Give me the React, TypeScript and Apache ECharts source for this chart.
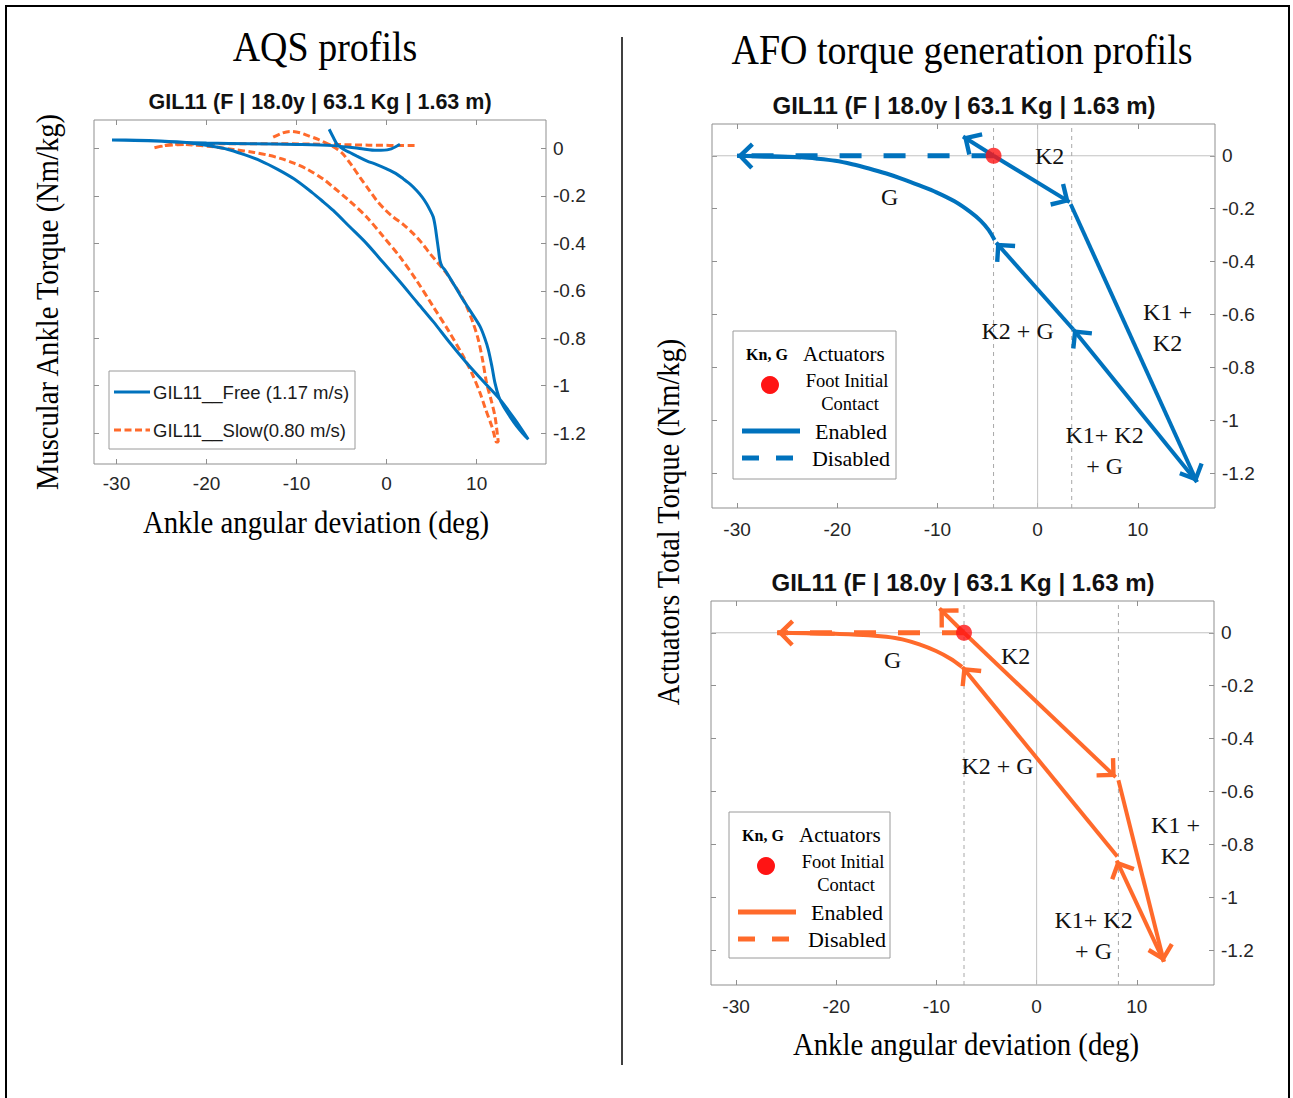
import React, { useEffect, useRef } from "react";
import * as echarts from "echarts";

// ---------- data ----------
const xTicks = [-30, -20, -10, 0, 10];
const yTicks = [-1.2, -1, -0.8, -0.6, -0.4, -0.2, 0];
const xRange = [-32.5, 17.7];
const yRange = [-1.33, 0.12];

const speedNames = ["GIL11__Free (1.17 m/s)", "GIL11__Slow(0.80 m/s)"];
const subjectTitle = "GIL11 (F | 18.0y | 63.1 Kg | 1.63 m)";

const freeCurve = [
  [-6.38, 0.081], [-5.9, 0.045], [-5.5, 0.018], [-4.8, -0.003], [-4.08, -0.017], [-3.3, -0.032],
  [-2.22, -0.052], [-1.1, -0.068], [0, -0.086], [1.0, -0.105], [1.85, -0.128], [2.7, -0.153],
  [3.33, -0.177], [3.95, -0.205], [4.44, -0.233], [4.85, -0.262], [5.18, -0.289], [5.4, -0.33],
  [5.56, -0.373], [5.75, -0.425], [5.92, -0.471], [6.15, -0.497], [6.48, -0.513], [7.5, -0.575],
  [8.51, -0.639], [9.5, -0.697], [10.37, -0.75], [10.9, -0.8], [11.29, -0.848], [11.7, -0.92],
  [12.03, -0.988], [12.45, -1.045], [12.96, -1.086], [13.7, -1.13], [14.44, -1.17], [15.1, -1.2],
  [15.73, -1.226],
  [14.2, -1.14], [12.59, -1.058], [10.7, -0.98], [8.89, -0.904], [7.0, -0.818], [5.18, -0.73],
  [3.3, -0.645], [1.48, -0.562], [-0.4, -0.48], [-2.22, -0.401], [-4.1, -0.33], [-5.93, -0.261],
  [-7.0, -0.226], [-8.3, -0.185], [-10.3, -0.128], [-12.1, -0.088], [-14, -0.052], [-15.9, -0.025],
  [-17.7, -0.003], [-19.5, 0.01], [-21.4, 0.021], [-23.3, 0.028], [-25.1, 0.032], [-27.8, 0.035],
  [-30.5, 0.036],
  [-28, 0.034], [-25, 0.03], [-22.9, 0.026], [-20, 0.023], [-15, 0.02], [-10, 0.017], [-6, 0.012],
  [-3, 0.0], [-1.1, -0.008], [0.3, -0.004], [1.48, 0.018],
];

const slowCurve = [
  [-12.6, 0.048], [-11.6, 0.065], [-10.7, 0.072], [-9.6, 0.066], [-8.8, 0.055], [-7.6, 0.038],
  [-6.3, 0.015], [-5.4, -0.005], [-4.82, -0.024], [-3.9, -0.07], [-2.96, -0.122], [-2.0, -0.172],
  [-1.11, -0.219], [-0.2, -0.257], [0.73, -0.289], [1.9, -0.322], [2.96, -0.359], [3.9, -0.398],
  [4.81, -0.443], [5.75, -0.485], [6.67, -0.527], [7.4, -0.57], [8.14, -0.611], [8.89, -0.667],
  [9.6, -0.735], [10.18, -0.806], [10.7, -0.9], [11.1, -0.988], [11.6, -1.06], [12.03, -1.128],
  [12.25, -1.19], [12.4, -1.237],
  [12.2, -1.237], [11.9, -1.2], [11.67, -1.17], [11.0, -1.1], [10.37, -1.03], [9.5, -0.95],
  [8.51, -0.876], [6.9, -0.77], [5.18, -0.667], [3.3, -0.555], [1.48, -0.457], [-0.4, -0.37],
  [-2.22, -0.289], [-4.1, -0.222], [-5.93, -0.163], [-7.0, -0.13], [-8.8, -0.088], [-10.3, -0.062],
  [-11.8, -0.042], [-13.3, -0.027], [-14.7, -0.017], [-17, -0.004], [-19.5, 0.008], [-21.9, 0.016],
  [-23.6, 0.018], [-25.9, 0.002],
  [-24.5, 0.012], [-22, 0.018], [-18, 0.02], [-12, 0.02], [-6, 0.017], [-2, 0.014], [3.3, 0.012],
];

// AFO – free speed (top)
const freeContact = [-4.4, 0];
const freePhaseX = [-4.4, 3.4];
const freeGCurve = [
  [-4.3, -0.318], [-4.9, -0.28], [-5.7, -0.245], [-6.73, -0.212], [-8.3, -0.172], [-10.1, -0.138],
  [-11.8, -0.112], [-13.47, -0.088], [-15.1, -0.067], [-16.84, -0.048], [-18.5, -0.032],
  [-20.2, -0.019], [-22, -0.011], [-23.6, -0.006], [-26.8, -0.002], [-30, 0],
];
const freeK2Back = [[-4.4, 0], [-7.45, 0.073]];
const freeK2 = [[-4.4, 0], [3.2, -0.175]];
const freeK1K2 = [[3.3, -0.183], [15.9, -1.232]];
const freeK1K2G = [[15.9, -1.232], [3.54, -0.655]];
const freeK2G = [[3.54, -0.655], [-4.14, -0.328]];
const freeLabels = [
  { text: "K2", at: [1.2, 0] },
  { text: "G", at: [-14.76, -0.155] },
  { text: "K2 + G", at: [-2.0, -0.663] },
  { text: "K1 +\nK2", at: [12.96, -0.648] },
  { text: "K1+ K2\n+ G", at: [6.68, -1.114] },
];

// AFO – slow speed (bottom)
const slowContact = [-7.25, 0];
const slowPhaseX = [-7.25, 8.16];
const slowGCurve = [
  [-7.45, -0.129], [-8.6, -0.098], [-10.04, -0.069], [-11.7, -0.044], [-13.41, -0.025],
  [-15, -0.015], [-16.78, -0.009], [-20.15, -0.004], [-23, -0.001], [-25.88, 0],
];
const slowK2Back = [[-7.25, 0], [-9.7, 0.092]];
const slowK2 = [[-7.25, 0], [7.89, -0.545]];
const slowK1K2 = [[8.16, -0.557], [12.7, -1.242]];
const slowK1K2G = [[12.7, -1.242], [7.99, -0.86]];
const slowK2G = [[8.05, -0.845], [-7.41, -0.129]];
const slowLabels = [
  { text: "G", at: [-14.36, -0.102] },
  { text: "K2", at: [-2.1, -0.087] },
  { text: "K2 + G", at: [-3.9, -0.504] },
  { text: "K1 +\nK2", at: [13.86, -0.784] },
  { text: "K1+ K2\n+ G", at: [5.68, -1.144] },
];

// ---------- styles ----------
const BLUE = "#0072BD";
const ORANGE = "#FF6A2B";
const RED = "#FF1414";
const BOX = "#8f8f8f";
const SERIF = "'Liberation Serif', 'Times New Roman', serif";
const SANS = "'Liberation Sans', Arial, sans-serif";
// open chevron, tip at the centre of a 40x40 box (degenerate sub-paths pad the box)
const CHEVRON =
  "path://M0,10L10,0L20,10L17.7,12.3L10,4.6L2.3,12.3Z M-10,-20L-9.99,-20Z M30,20L29.99,20Z";

const grids = [
  { left: 94, top: 120, width: 452, height: 344 },
  { left: 712, top: 124, width: 503, height: 384 },
  { left: 711, top: 601, width: 503, height: 384 },
];
const xLabelMargin = [10, 12, 12];

function buildAxes() {
  const xAxis: any[] = [];
  const yAxis: any[] = [];
  grids.forEach((_, i) => {
    const tick = (vals: number[]) => ({
      show: true, inside: true, length: 5, customValues: vals, lineStyle: { color: BOX, width: 1 },
    });
    const line = { show: false, onZero: false };
    xAxis.push({
      gridIndex: i, type: "value", min: xRange[0], max: xRange[1], position: "bottom",
      axisLine: line, splitLine: { show: false }, axisTick: tick(xTicks),
      axisLabel: { customValues: xTicks, fontFamily: SANS, fontSize: 19, color: "#262626", margin: xLabelMargin[i] },
    });
    xAxis.push({
      gridIndex: i, type: "value", min: xRange[0], max: xRange[1], position: "top",
      axisLine: line, splitLine: { show: false }, axisTick: tick(xTicks), axisLabel: { show: false },
    });
    yAxis.push({
      gridIndex: i, type: "value", min: yRange[0], max: yRange[1], position: "right",
      axisLine: line, splitLine: { show: false }, axisTick: tick(yTicks),
      axisLabel: { customValues: yTicks, fontFamily: SANS, fontSize: 19, color: "#262626", margin: 7 },
    });
    yAxis.push({
      gridIndex: i, type: "value", min: yRange[0], max: yRange[1], position: "left",
      axisLine: line, splitLine: { show: false }, axisTick: tick(yTicks), axisLabel: { show: false },
    });
  });
  return { xAxis, yAxis };
}

function lineSeries(gi: number, data: number[][], color: string, width: number, type: any, smooth: any, z = 2) {
  return {
    type: "line", xAxisIndex: gi * 2, yAxisIndex: gi * 2, data, showSymbol: false, symbol: "none",
    smooth, lineStyle: { color, width, type }, silent: true, z, animation: false,
  };
}

function arrowSeries(gi: number, coords: number[][], color: string) {
  return {
    type: "lines", coordinateSystem: "cartesian2d", xAxisIndex: gi * 2, yAxisIndex: gi * 2,
    symbol: ["none", CHEVRON], symbolSize: [54, 54],
    lineStyle: { color, width: 4, opacity: 1, curveness: 0 },
    data: [{ coords }], silent: true, z: 3,
  };
}

function afoSeries(gi: number, color: string, d: any) {
  const s: any[] = [];
  s.push(lineSeries(gi, [[xRange[0], 0], [xRange[1], 0]], "#c2c2c2", 1, "solid", false, 1));
  s.push(lineSeries(gi, [[0, yRange[0]], [0, yRange[1]]], "#c2c2c2", 1, "solid", false, 1));
  d.phaseX.forEach((x: number) => {
    s.push(lineSeries(gi, [[x, yRange[0]], [x, yRange[1]]], "#a8a8a8", 1, [4, 4], false, 1));
  });
  const gEnd = d.g[d.g.length - 1];
  s.push(lineSeries(gi, [d.contact, [gEnd[0], 0]], color, 5, [22, 22], false, 2));
  s.push(lineSeries(gi, d.g, color, 4, "solid", 0.3, 2));
  s.push(arrowSeries(gi, [d.g[d.g.length - 3], gEnd], color));
  [d.k2Back, d.k2, d.k1k2, d.k1k2g, d.k2g].forEach((c: number[][]) => s.push(arrowSeries(gi, c, color)));
  s.push({
    type: "scatter", xAxisIndex: gi * 2, yAxisIndex: gi * 2, symbolSize: 16,
    itemStyle: { color: RED }, data: [d.contact], silent: true, z: 5,
  });
  s.push({
    type: "scatter", xAxisIndex: gi * 2, yAxisIndex: gi * 2, symbolSize: 1,
    itemStyle: { color: "rgba(0,0,0,0)" }, silent: true, z: 6,
    label: {
      show: true, position: "inside", formatter: (p: any) => p.name, fontFamily: SERIF,
      fontSize: 24, color: "#111", lineHeight: 31, align: "center", opacity: 1,
    },
    data: d.labels.map((l: any) => ({ name: l.text, value: l.at })),
  });
  return s;
}

function txt(x: number, y: number, text: string, size: number, family: string, opts: any = {}) {
  return {
    type: "text", x, y, rotation: opts.rotation || 0, scaleY: opts.scaleY || 1, z: 50,
    style: {
      text, fontSize: size, fontFamily: family, fontWeight: opts.weight || "normal",
      fill: opts.fill || "#000", align: opts.align || "center", textAlign: opts.align || "center",
      verticalAlign: "middle", textVerticalAlign: "middle",
    },
  };
}

function afoLegend(ox: number, oy: number, w: number, h: number, color: string) {
  return {
    type: "group", x: ox, y: oy, z: 60,
    children: [
      { type: "rect", shape: { x: 0, y: 0, width: w, height: h }, style: { fill: "#fff", stroke: "#9a9a9a", lineWidth: 1 } },
      txt(34, 23, "Kn, G", 16, SERIF, { weight: "bold" }),
      txt(70, 23, "Actuators", 21, SERIF, { align: "left" }),
      { type: "circle", shape: { cx: 37, cy: 54, r: 9 }, style: { fill: RED } },
      txt(114, 50, "Foot Initial", 18.5, SERIF),
      txt(117, 73, "Contact", 18.5, SERIF),
      { type: "line", shape: { x1: 9, y1: 100, x2: 67, y2: 100 }, style: { stroke: color, lineWidth: 5 } },
      txt(118, 100, "Enabled", 22, SERIF),
      { type: "line", shape: { x1: 9, y1: 127, x2: 26, y2: 127 }, style: { stroke: color, lineWidth: 5 } },
      { type: "line", shape: { x1: 43, y1: 127, x2: 60, y2: 127 }, style: { stroke: color, lineWidth: 5 } },
      txt(118, 127, "Disabled", 22, SERIF),
    ],
  };
}

function buildOption() {
  const { xAxis, yAxis } = buildAxes();
  const series: any[] = [];
  series.push(lineSeries(0, slowCurve, ORANGE, 3, [7, 3.5], 0.3, 2));
  series.push(lineSeries(0, freeCurve, BLUE, 3, "solid", 0.3, 3));
  series.push(...afoSeries(1, BLUE, {
    contact: freeContact, phaseX: freePhaseX, g: freeGCurve, k2Back: freeK2Back, k2: freeK2,
    k1k2: freeK1K2, k1k2g: freeK1K2G, k2g: freeK2G, labels: freeLabels,
  }));
  series.push(...afoSeries(2, ORANGE, {
    contact: slowContact, phaseX: slowPhaseX, g: slowGCurve, k2Back: slowK2Back, k2: slowK2,
    k1k2: slowK1K2, k1k2g: slowK1K2G, k2g: slowK2G, labels: slowLabels,
  }));

  const graphic: any[] = [
    { type: "rect", z: 40, shape: { x: 6, y: 6, width: 1283, height: 1110 }, style: { fill: "none", stroke: "#000", lineWidth: 2 } },
    { type: "line", z: 40, shape: { x1: 622, y1: 37, x2: 622, y2: 1065 }, style: { stroke: "#000", lineWidth: 1.5 } },
    txt(325, 47, "AQS profils", 38, SERIF, { scaleY: 1.12 }),
    txt(962, 50, "AFO torque generation profils", 38, SERIF, { scaleY: 1.12 }),
    txt(320, 102, subjectTitle, 21.5, SANS, { weight: "bold", fill: "#111" }),
    txt(964, 105, subjectTitle, 24, SANS, { weight: "bold", fill: "#111" }),
    txt(963, 582, subjectTitle, 24, SANS, { weight: "bold", fill: "#111" }),
    txt(316, 523, "Ankle angular deviation (deg)", 28.8, SERIF, { scaleY: 1.1 }),
    txt(966, 1045, "Ankle angular deviation (deg)", 28.8, SERIF, { scaleY: 1.1 }),
    txt(48, 302, "Muscular Ankle Torque (Nm/kg)", 28.6, SERIF, { rotation: Math.PI / 2, scaleY: 1.1 }),
    txt(668, 522, "Actuators Total Torque (Nm/kg)", 28.4, SERIF, { rotation: Math.PI / 2, scaleY: 1.1 }),
    {
      type: "group", x: 109, y: 371, z: 60,
      children: [
        { type: "rect", shape: { x: 0, y: 0, width: 246, height: 78 }, style: { fill: "#fff", stroke: "#9a9a9a", lineWidth: 1 } },
        { type: "line", shape: { x1: 5, y1: 21, x2: 41, y2: 21 }, style: { stroke: BLUE, lineWidth: 3 } },
        txt(44, 21, speedNames[0], 18.5, SANS, { align: "left", fill: "#1a1a1a" }),
        { type: "line", shape: { x1: 5, y1: 59, x2: 41, y2: 59 }, style: { stroke: ORANGE, lineWidth: 3, lineDash: [7, 3.5] } },
        txt(44, 59, speedNames[1], 18.5, SANS, { align: "left", fill: "#1a1a1a" }),
      ],
    },
    afoLegend(733, 331, 163, 148, BLUE),
    afoLegend(729, 812, 161, 146, ORANGE),
  ];

  return {
    animation: false,
    backgroundColor: "#fff",
    grid: grids.map((g) => ({
      ...g, show: true, borderColor: BOX, borderWidth: 1, backgroundColor: "transparent",
      containLabel: false, outerBoundsMode: "none",
    })),
    xAxis, yAxis, series, graphic,
  };
}

export default function App() {
  const ref = useRef<HTMLDivElement>(null);
  useEffect(() => {
    if (!ref.current) return;
    const chart = echarts.init(ref.current, null, { renderer: "svg" });
    chart.setOption(buildOption() as any);
    return () => chart.dispose();
  }, []);
  return (
    <div
      ref={ref}
      style={{ position: "absolute", left: 0, top: 0, width: 1293, height: 1098, background: "#fff" }}
    />
  );
}
